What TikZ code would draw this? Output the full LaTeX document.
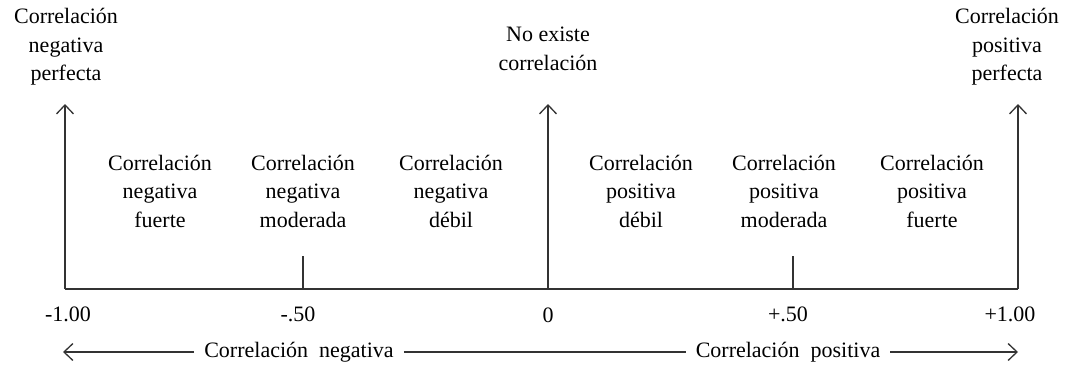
\documentclass[tikz,border=0pt]{standalone}
\usepackage{fontspec}
\setmainfont{Liberation Serif}
\usetikzlibrary{arrows.meta}

\tikzset{
    axis/.style = {line width=1.3pt, draw=black!80},
    flecha/.style = {axis, -{Straight Barb[length=9pt,width=17pt,line width=1.3pt]}},
    rotulo/.style = {align=center, font=\fontsize{22}{28.5}\selectfont, inner sep=0pt},
}

\begin{document}
\begin{tikzpicture}[x=1pt, y=-1pt]
            \useasboundingbox (0,0) rectangle (1069,367);

            % Points on the scale
            \coordinate (m1) at (65,289);
            \coordinate (m05) at (303,289);
            \coordinate (z) at (548,289);
            \coordinate (p05) at (793,289);
            \coordinate (p1) at (1018,289);

            % Base line and the short ticks
            \draw[axis] (m1) -- (p1);
            \foreach \t in {m05,p05} {
                \draw[axis] (\t) -- ++(0,-33);
            }

            % Arrows going up at the extremes and at zero
            \foreach \t in {m1,z,p1} {
                \draw[flecha] (\t) -- ++(0,-185);
            }

            % Labels above the arrows
            \node[rotulo] (perfneg) at (66,47) {Correlación\\negativa\\perfecta};
            \node[rotulo] (nula) at (548,49) {No existe\\correlación};
            \node[rotulo] (perfpos) at (1007,47) {Correlación\\positiva\\perfecta};

            % Labels between the arrows
            \node[rotulo] (fneg) at (160,191) {Correlación\\negativa\\fuerte};
            \node[rotulo] (mneg) at (303,191) {Correlación\\negativa\\moderada};
            \node[rotulo] (dneg) at (451,191) {Correlación\\negativa\\débil};
            \node[rotulo] (dpos) at (641,191) {Correlación\\positiva\\débil};
            \node[rotulo] (mpos) at (784,191) {Correlación\\positiva\\moderada};
            \node[rotulo] (fpos) at (932,191) {Correlación\\positiva\\fuerte};

            % Values under the scale
            \node[rotulo] (vm1) at (68,314) {-1.00};
            \node[rotulo] (vm05) at (298,314) {-.50};
            \node[rotulo] (vz) at (548,315) {0};
            \node[rotulo] (vp05) at (788,314) {+.50};
            \node[rotulo] (vp1) at (1010,314) {+1.00};

            % Bottom row with the two directions
            \node[rotulo] (neg) at (299,352) {Correlación~~negativa};
            \node[rotulo] (pos) at (788,352) {Correlación~~positiva};
            \coordinate (izq) at (63,352);
            \coordinate (der) at (1018,352);
            \draw[flecha] ([xshift=-10pt]neg.west) -- (izq);
            \draw[axis] ([xshift=10pt]neg.east) -- ([xshift=-10pt]pos.west);
            \draw[flecha] ([xshift=10pt]pos.east) -- (der);
        \end{tikzpicture}
\end{document}
